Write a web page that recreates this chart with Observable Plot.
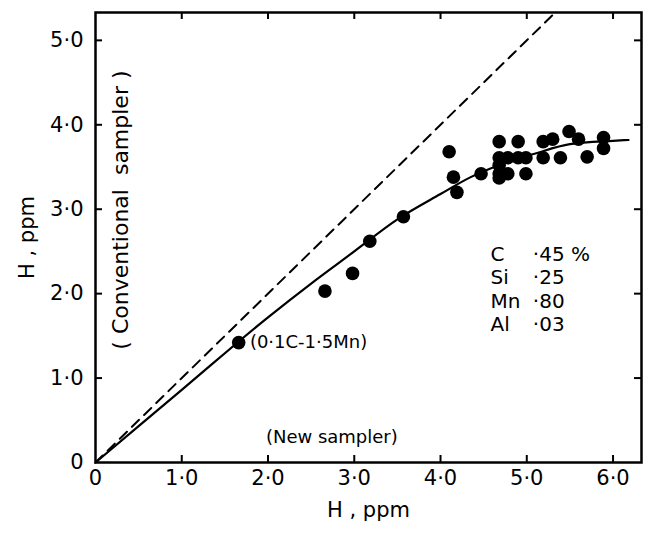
<!DOCTYPE html>
<html>
<head>
<meta charset="utf-8">
<script src="https://cdn.jsdelivr.net/npm/d3@7"></script>
<script src="https://cdn.jsdelivr.net/npm/@observablehq/plot@0.6"></script>
<style>
  body { margin: 0; background: #fff; }
  svg { font-family: "DejaVu Sans", sans-serif; }
</style>
</head>
<body>
<div id="chart"></div>
<script>
// Measured points: H by new sampler (x) vs H by conventional sampler (y), ppm
const pointX = [1.66, 2.66, 2.98, 3.18, 3.57, 4.10, 4.15, 4.19, 4.47, 4.68, 4.68, 4.68, 4.68, 4.68,
                4.78, 4.78, 4.90, 4.90, 4.99, 4.99, 5.19, 5.19, 5.30, 5.39, 5.49, 5.60, 5.70, 5.89, 5.89];
const pointY = [1.42, 2.03, 2.24, 2.62, 2.91, 3.68, 3.38, 3.20, 3.42, 3.80, 3.61, 3.52, 3.42, 3.37,
                3.61, 3.42, 3.80, 3.61, 3.61, 3.42, 3.80, 3.61, 3.83, 3.61, 3.92, 3.83, 3.62, 3.85, 3.72];

// Fitted solid curve
const curveX = [0, 1.0, 2.0, 2.5, 3.0, 3.5, 4.0, 4.35, 4.7, 5.1, 5.5, 6.0, 6.18];
const curveY = [0, 0.86, 1.72, 2.12, 2.50, 2.88, 3.18, 3.38, 3.53, 3.66, 3.77, 3.81, 3.82];

// Equality line (dashed)
const equalX = [0, 5.33];
const equalY = [0, 5.33];

const xTicks = [0, 1, 2, 3, 4, 5, 6];
const yTicks = [0, 1, 2, 3, 4, 5];

const compLabels = ["C", "Si", "Mn", "Al"];
const compValues = ["·45 %", "·25", "·80", "·03"];

const pts = pointX.map((x, i) => ({x, y: pointY[i]}));
const curve = curveX.map((x, i) => ({x, y: curveY[i]}));
const equal = equalX.map((x, i) => ({x, y: equalY[i]}));
const comp = compLabels.map((l, i) => ({l, v: compValues[i], i}));

const fmt = d => d === 0 ? "0" : d.toFixed(1).replace(".", "·");

const W = 655, H = 534, mL = 95, mR = 14, mT = 12, mB = 72, TK = 7;
const plotW = W - mL - mR, plotH = H - mT - mB;

const chart = Plot.plot({
  width: W,
  height: H,
  marginLeft: mL,
  marginRight: mR,
  marginTop: mT,
  marginBottom: mB,
  style: {fontFamily: "'DejaVu Sans', sans-serif", fontSize: "20px", color: "#000", background: "#fff"},
  x: {domain: [0, 6.33]},
  y: {domain: [0, 5.33]},
  marks: [
    Plot.axisX({anchor: "bottom", ticks: xTicks, tickSize: 0, tickPadding: 8, tickFormat: fmt,
                label: "H , ppm", labelArrow: "none", labelAnchor: "center", labelOffset: 54, fontSize: 21}),
    Plot.axisY({anchor: "left", ticks: yTicks, tickSize: 0, tickPadding: 12, tickFormat: fmt,
                label: "H , ppm", labelArrow: "none", labelAnchor: "center", labelOffset: 76, fontSize: 21}),
    // inward ticks on all four sides
    Plot.ruleX(xTicks.slice(1), {x: d => d, insetTop: plotH - TK, stroke: "#000", strokeWidth: 2}),
    Plot.ruleX(xTicks.slice(1), {x: d => d, insetBottom: plotH - TK, stroke: "#000", strokeWidth: 2}),
    Plot.ruleY(yTicks.slice(1), {y: d => d, insetRight: plotW - TK, stroke: "#000", strokeWidth: 2}),
    Plot.ruleY(yTicks.slice(1), {y: d => d, insetLeft: plotW - TK, stroke: "#000", strokeWidth: 2}),
    Plot.line(equal, {x: "x", y: "y", stroke: "#000", strokeWidth: 2, strokeDasharray: "10,7"}),
    Plot.line(curve, {x: "x", y: "y", curve: "monotone-x", stroke: "#000", strokeWidth: 2.2}),
    Plot.dot(pts, {x: "x", y: "y", r: 6.8, fill: "#000", stroke: "none"}),
    Plot.text(["(0·1C-1·5Mn)"], {x: 1.79, y: 1.42, text: d => d, textAnchor: "start", fontSize: 18}),
    Plot.text(["(New sampler)"], {x: 2.74, y: 0.30, text: d => d, fontSize: 18}),
    Plot.text(["( Conventional  sampler )"], {x: 0.29, y: 2.99, text: d => d, rotate: -90, fontSize: 22}),
    Plot.text(comp, {x: 4.58, y: d => 2.46 - d.i * 0.275, text: "l", textAnchor: "start", fontSize: 20}),
    Plot.text(comp, {x: 5.07, y: d => 2.46 - d.i * 0.275, text: "v", textAnchor: "start", fontSize: 20}),
    Plot.frame({stroke: "#000", strokeWidth: 2.5})
  ]
});
document.getElementById("chart").appendChild(chart);
</script>
</body>
</html>
